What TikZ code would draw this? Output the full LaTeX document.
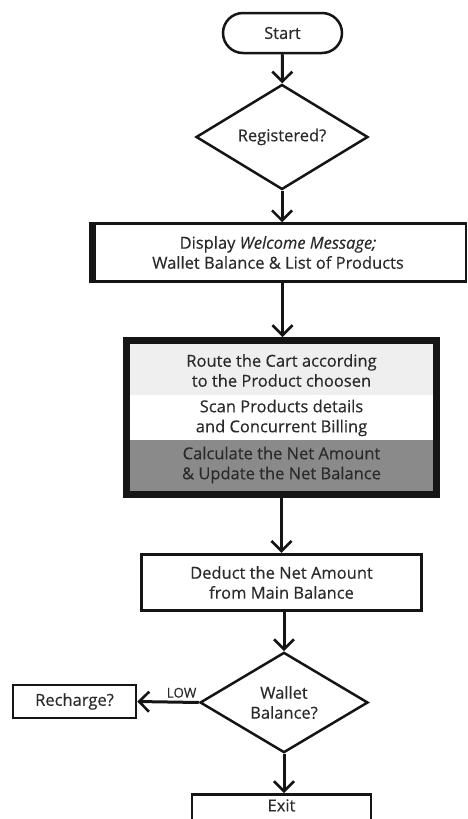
\documentclass[tikz,border=0pt]{standalone}
\usepackage{fontspec}
\setmainfont{Open Sans}[FakeBold=0.35, ItalicFeatures={FakeBold=0.35}]
\usetikzlibrary{shapes.geometric,arrows.meta}
\definecolor{ink}{HTML}{151515}
\definecolor{txt}{HTML}{2A2A2A}
\definecolor{lightsec}{HTML}{EFEFEF}
\definecolor{darksec}{HTML}{8A8A8A}
\begin{document}
\begin{tikzpicture}[x=1pt,y=-1pt,
  every node/.style={text=txt, font=\fontsize{16.5}{20}\selectfont},
  term/.style={draw=ink, line width=2.5pt, rounded corners=20pt, minimum width=119pt, minimum height=40pt, inner sep=0pt},
  dec/.style={diamond, draw=ink, line width=2.5pt, inner sep=0pt, align=center},
  box/.style={draw=ink, line width=2.5pt, inner sep=0pt, align=center},
  lbl/.style={align=center, inner sep=0pt},
  arr/.style={draw=ink, line width=3pt, -{Straight Barb[length=10pt,width=20pt,line width=2.6pt]}}
]
\useasboundingbox (0,0) rectangle (468,819);
\fill[white] (0,0) rectangle (468,819);

\node[term] (start) at (282.5,33) {Start};
\node[dec, minimum width=172pt, minimum height=60pt] (reg) at (282,137) {Registered?};
\node[box, minimum width=376pt, minimum height=58pt] (disp) at (278,252.5)
  {Display \textit{Welcome Message;}\\Wallet Balance \& List of Products};
\draw[ink, line width=7pt] (92.5,224) -- (92.5,281.5);

% cart block sections
\fill[lightsec] (130,344) rectangle (433,395);
\fill[white] (130,395) rectangle (433,440);
\fill[darksec] (130,440) rectangle (433,491);
\node[draw=ink, line width=7pt, minimum width=310pt, minimum height=154pt, inner sep=0pt] (cart) at (281.5,417.5) {};
\node[lbl] (s1) at (281.5,370.5) {Route the Cart according\\to the Product choosen};
\node[lbl] (s2) at (281.5,418) {Scan Products details\\and Concurrent Billing};
\node[lbl] (s3) at (281.5,465) {Calculate the Net Amount\\\& Update the Net Balance};

\node[box, line width=3.5pt, minimum width=280pt, minimum height=56pt] (ded) at (281.5,582.5)
  {Deduct the Net Amount\\from Main Balance};
\node[dec, minimum width=168pt, minimum height=69pt] (wal) at (284,702.5) {Wallet\\Balance?};
\node[box, line width=2.5pt, minimum width=123pt, minimum height=33pt] (rech) at (74.5,701.5) {Recharge?};
\node[box, line width=2.5pt, anchor=north, minimum width=179pt, inner ysep=5pt, text depth=30pt] (exit) at (281.5,793) {Exit};

\draw[arr] (start) -- (reg);
\draw[arr] (reg) -- (reg.south |- disp.north);
\draw[arr] (disp.south -| start.south) -- (cart.north -| start.south);
\draw[arr] (cart.south) -- (ded.north);
\draw[arr] (ded.south -| wal.north) -- (wal.north);
\draw[arr] (wal.west) -- node[pos=0.28, above=3pt, font=\fontsize{13.5}{14}\selectfont, inner sep=0pt] (low) {LOW} (rech.east);
\draw[arr] (wal.south) -- (exit.north -| wal.south);
\end{tikzpicture}
\end{document}
